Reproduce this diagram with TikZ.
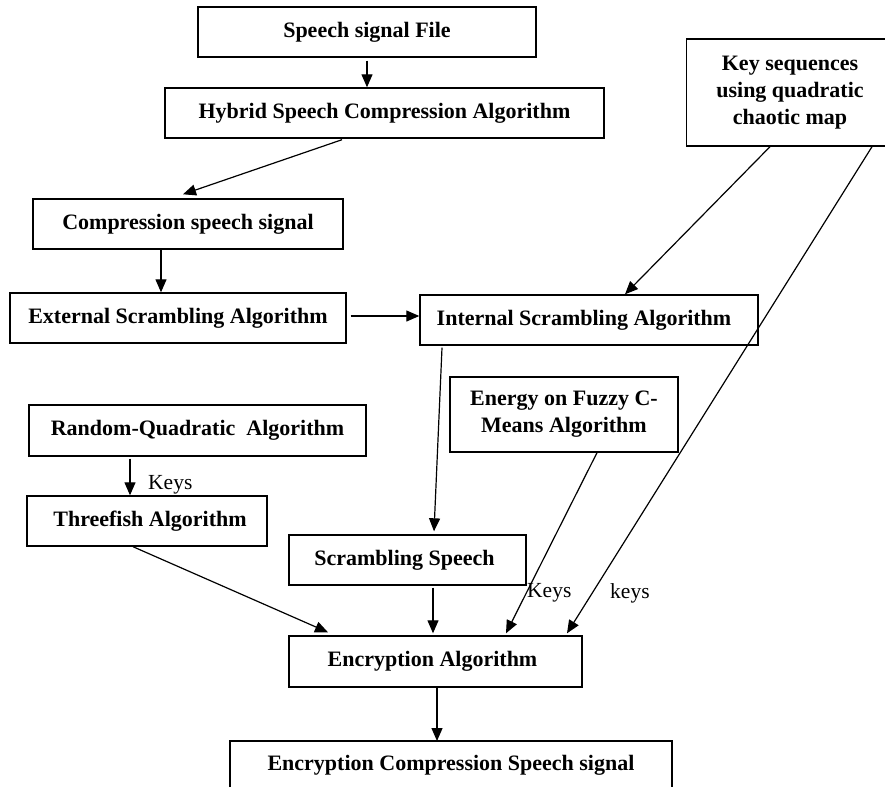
\documentclass[tikz,border=0pt]{standalone}
\usepackage{fontspec}
\setmainfont{Liberation Serif}
\usetikzlibrary{arrows.meta}
\begin{document}
\begin{tikzpicture}[x=1pt,y=-1pt,
  box/.style={draw, line width=1.4pt, inner sep=0pt, align=center,
    font=\fontsize{22}{27}\selectfont\bfseries},
  open/.style={line width=1.4pt},
  conn/.style={line width=1.2pt, -{Triangle[length=13pt,width=11pt]}},
  lbl/.style={font=\fontsize{21.5}{24}\selectfont, inner sep=0pt}]
\useasboundingbox[fill=white] (0,0) rectangle (885,787);

\node[box, minimum width=338, minimum height=50] (file) at (367,32) {Speech signal File};
\node[box, minimum width=439, minimum height=50] (hybrid) at (384.5,113) {Hybrid Speech Compression Algorithm};
\node[box, minimum width=310, minimum height=50] (comp) at (188,224) {Compression speech signal};
\node[box, minimum width=336, minimum height=50] (ext) at (178,318) {External Scrambling Algorithm};
\node[box, minimum width=338, minimum height=50] (int) at (589,320) {Internal Scrambling Algorithm\hspace*{10pt}};
\node[box, draw=none, minimum width=206, minimum height=107] (key) at (790,92.5) {Key sequences\\using quadratic\\chaotic map};
\coordinate (keyNE) at (885,39);
\coordinate (keySE) at (885,146);
\draw[open] (keyNE) -- (keyNE -| key.west) -- (keySE -| key.west) -- (keySE);
\node[box, minimum width=337, minimum height=51] (rq) at (197.5,430.5) {Random-Quadratic\ \ Algorithm};
\node[box, minimum width=240, minimum height=50] (tf) at (147,521) {\hspace*{6pt}Threefish Algorithm};
\node[box, minimum width=228, minimum height=75] (en) at (564,414.5) {Energy on Fuzzy C-\\Means Algorithm};
\node[box, minimum width=237, minimum height=50] (ss) at (407.5,560) {Scrambling Speech\hspace*{6pt}};
\node[box, minimum width=293, minimum height=51] (enc) at (435.5,661.5) {Encryption Algorithm\hspace*{6pt}};
\node[box, draw=none, anchor=north, minimum width=442, text height=22pt, text depth=0pt, inner ysep=7pt] (final) at (451,741) {Encryption Compression Speech signal};
\coordinate (finSW) at (230,787);
\coordinate (finSE) at (672,787);
\draw[open] (finSW) -- (finSW |- final.north) -- (finSE |- final.north) -- (finSE);

\draw[conn] ([yshift=-3pt]file.south) -- (file.south |- hybrid.north);
\draw[conn] ([xshift=-42.5pt,yshift=-1pt]hybrid.south) -- ([xshift=-5pt,yshift=4pt]comp.north);
\draw[conn] ([xshift=-27pt]comp.south) -- ([xshift=-27pt]comp.south |- ext.north);
\draw[conn] ([xshift=4pt,yshift=2pt]ext.east) -- ([yshift=2pt]ext.east -| int.west);
\draw[conn] ([xshift=-20pt]key.south) -- ([xshift=36pt]int.north);
\draw[conn] ([xshift=82pt]key.south) -- ([xshift=131.5pt,yshift=2pt]enc.north);
\draw[conn] ([xshift=-147pt,yshift=-2pt]int.south) -- ([xshift=26.5pt,yshift=3pt]ss.north);
\draw[conn] ([xshift=-67.5pt,yshift=-2pt]rq.south) -- ([xshift=-17pt]tf.north);
\draw[conn] ([xshift=-14pt]tf.south) -- ([xshift=-107.5pt,yshift=3pt]enc.north);
\draw[conn] ([xshift=25.5pt,yshift=-2pt]ss.south) -- ([xshift=-2.5pt,yshift=2pt]enc.north);
\draw[conn] ([xshift=33pt]en.south) -- ([xshift=70.5pt,yshift=2pt]enc.north);
\draw[conn] ([xshift=1.5pt]enc.south) -- ([xshift=1.5pt]enc.south |- final.north);

\node[lbl, anchor=west] (k1) at (148,485) {Keys};
\node[lbl, anchor=west] (k2) at (527,593) {Keys};
\node[lbl, anchor=west] (k3) at (610,593) {keys};
\end{tikzpicture}
\end{document}
